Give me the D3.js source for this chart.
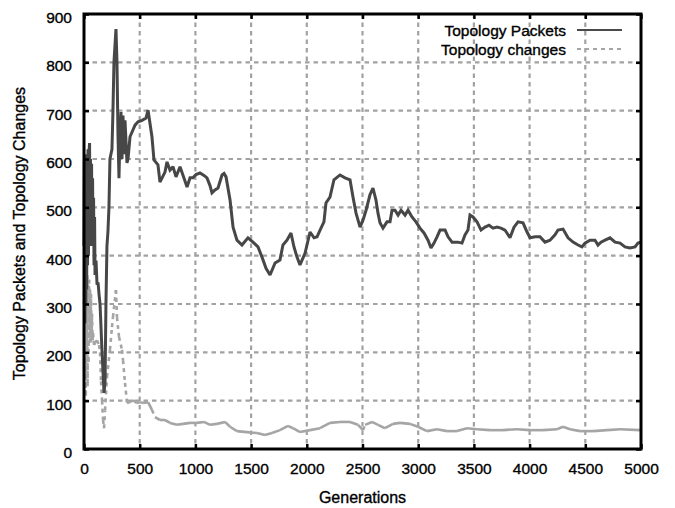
<!DOCTYPE html>
<html>
<head>
<meta charset="utf-8">
<script src="https://cdn.jsdelivr.net/npm/d3@7"></script>
<style>
  html, body { margin: 0; padding: 0; background: #fff; }
  svg text { font-family: "Liberation Sans", Arial, sans-serif; fill: #000; stroke: #000; stroke-width: 0.35px; }
</style>
</head>
<body>
<svg id="chart" width="675" height="508"></svg>
<script>
// Topology packets per generation
const packetGens = [0,4,8,12,16,20,24,28,32,36,40,45,50,54,58,63,68,72,77,81,86,90,95,99,108,117,126,135,144,162,180,189,197,206,215,224,233,251,260,269,287,296,305,314,323,332,341,350,359,368,386,395,413,458,485,521,557,575,610,628,664,682,727,745,772,799,826,862,898,925,952,978,1005,1041,1077,1104,1131,1149,1176,1203,1239,1257,1275,1311,1338,1373,1418,1472,1517,1562,1598,1634,1670,1715,1759,1786,1822,1858,1885,1912,1939,1984,2029,2065,2092,2119,2154,2172,2208,2244,2298,2343,2388,2415,2442,2478,2505,2532,2567,2594,2621,2639,2657,2684,2720,2747,2765,2792,2819,2846,2882,2909,2944,2980,3016,3052,3088,3115,3142,3169,3196,3241,3268,3304,3357,3393,3420,3447,3465,3492,3528,3564,3600,3636,3672,3707,3743,3779,3824,3860,3896,3941,3977,4004,4049,4093,4138,4183,4228,4255,4300,4345,4390,4435,4470,4497,4542,4587,4614,4641,4677,4722,4767,4812,4856,4901,4946,4973,5000];
const packetValues = [420,600,260,610,300,590,330,600,380,620,400,615,633,440,600,420,590,450,560,420,520,380,480,360,390,340,345,320,300,200,116,140,300,420,450,500,600,620,700,800,869,800,650,560,650,697,600,690,610,680,592,600,646,670,677,680,685,701,646,598,588,552,573,594,577,584,563,584,560,542,561,561,568,571,566,561,545,530,536,540,567,570,563,515,459,432,422,437,428,418,397,374,360,385,391,422,432,447,418,397,381,405,449,437,439,453,470,509,521,557,567,561,557,521,488,459,474,494,526,540,515,488,468,457,470,470,494,494,484,494,484,494,480,470,457,447,432,416,426,439,453,453,439,428,428,426,443,453,484,480,470,453,459,463,457,459,457,453,437,459,470,468,449,437,439,439,428,432,443,453,455,437,428,422,418,426,432,432,422,428,432,437,428,426,418,416,418,426,428];

// Topology changes per generation
const changeGens = [0,4,8,12,16,20,24,28,32,36,40,45,50,54,58,63,68,72,77,81,90,99,117,135,144,153,162,171,180,189,206,233,251,260,287,296,314,341,350,368,386,413,440,476,503,530,575,610,637,682,727,772,835,889,952,1014,1077,1131,1194,1266,1311,1373,1463,1553,1625,1688,1759,1831,1876,1939,2029,2119,2208,2298,2388,2460,2505,2523,2585,2639,2702,2774,2837,2926,2998,3079,3169,3259,3348,3438,3528,3645,3761,3887,4004,4120,4246,4300,4363,4453,4569,4695,4812,4991,5000];
const changeValues = [300,390,150,370,110,380,200,360,130,340,180,350,250,330,220,320,230,280,225,240,215,220,225,215,200,140,100,60,43,80,149,205,252,273,329,273,232,205,184,137,95,97,101,95,97,95,97,81,66,60,60,54,50,52,54,54,56,50,52,56,46,37,35,33,29,33,39,48,43,35,39,43,54,56,56,50,39,50,56,50,43,52,54,52,46,37,41,37,37,43,41,39,39,41,39,39,41,46,41,37,37,39,41,39,40];

const xTicks = [0,500,1000,1500,2000,2500,3000,3500,4000,4500,5000];
const yTicks = [0,100,200,300,400,500,600,700,800,900];
const seriesNames = ["Topology Packets", "Topology changes"];
const xTitle = "Generations";
const yTitle = "Topology Packets and Topology Changes";

const svg = d3.select("#chart");
const plotLeft = 84, plotTop = 14, plotRight = 641, plotBottom = 449;

const x = d3.scaleLinear().domain([0, 5000]).range([plotLeft, plotRight]);
const y = d3.scaleLinear().domain([0, 900]).range([plotBottom, plotTop]);

const gridColor = "#a2a2a2";
const fontSize = "15.5px";

// dashed grid
svg.append("g").selectAll("line")
  .data(xTicks.slice(1, -1)).join("line")
  .attr("x1", d => x(d)).attr("x2", d => x(d))
  .attr("y1", plotTop).attr("y2", plotBottom)
  .attr("stroke", gridColor).attr("stroke-width", 2.2)
  .attr("stroke-dasharray", "4.5,4");
svg.append("g").selectAll("line")
  .data(yTicks.slice(1, -1)).join("line")
  .attr("x1", plotLeft).attr("x2", plotRight)
  .attr("y1", d => y(d)).attr("y2", d => y(d))
  .attr("stroke", gridColor).attr("stroke-width", 2.2)
  .attr("stroke-dasharray", "4.5,4");

// Topology changes: drawn per segment so that steep jumps show the dash pattern
const changePts = changeGens.map((g, i) => [x(g), y(changeValues[i])]);
const segs = d3.pairs(changePts);
svg.append("g").selectAll("line")
  .data(segs).join("line")
  .attr("x1", d => d[0][0]).attr("y1", d => d[0][1])
  .attr("x2", d => d[1][0]).attr("y2", d => d[1][1])
  .attr("stroke", "#a5a5a5").attr("stroke-width", 2.6)
  .attr("stroke-linecap", "butt")
  .attr("stroke-dasharray", d => Math.abs(d[1][1] - d[0][1]) > 2.2 * Math.abs(d[1][0] - d[0][0]) ? "4,4" : null);

// Topology packets
const line = d3.line().x(d => x(d[0])).y(d => y(d[1]));
svg.append("path")
  .datum(packetGens.map((g, i) => [g, packetValues[i]]))
  .attr("d", line)
  .attr("fill", "none").attr("stroke", "#474747")
  .attr("stroke-width", 3).attr("stroke-linejoin", "miter").attr("stroke-miterlimit", 2);

// axes with inward ticks on all four sides
const tickLen = 5;
const axB = d3.axisBottom(x).tickValues(xTicks).tickSize(-tickLen).tickPadding(14).tickFormat(d3.format("d"));
const axT = d3.axisTop(x).tickValues(xTicks).tickSize(-tickLen).tickFormat("");
const axL = d3.axisLeft(y).tickValues(yTicks).tickSize(-tickLen).tickPadding(12).tickFormat(d3.format("d"));
const axR = d3.axisRight(y).tickValues(yTicks).tickSize(-tickLen).tickFormat("");

function style(g) {
  g.select(".domain").remove();
  g.selectAll(".tick line").attr("stroke", "#000").attr("stroke-width", 2.5);
  g.selectAll(".tick text").attr("font-size", fontSize).attr("font-family", "Liberation Sans, Arial, sans-serif").attr("fill", "#000");
}
svg.append("g").attr("transform", `translate(0,${plotBottom})`).call(axB).call(style);
svg.append("g").attr("transform", `translate(0,${plotTop})`).call(axT).call(style);
svg.append("g").attr("transform", `translate(${plotLeft},0)`).call(axL).call(style)
  .selectAll(".tick text").attr("dy", "0.55em");
svg.append("g").attr("transform", `translate(${plotRight},0)`).call(axR).call(style);

// frame
svg.append("rect")
  .attr("x", plotLeft).attr("y", plotTop)
  .attr("width", plotRight - plotLeft).attr("height", plotBottom - plotTop)
  .attr("fill", "none").attr("stroke", "#000").attr("stroke-width", 3);

// titles
svg.append("text")
  .attr("x", (plotLeft + plotRight) / 2).attr("y", 503)
  .attr("text-anchor", "middle").attr("font-size", "16px")
  .text(xTitle);
svg.append("text")
  .attr("transform", `translate(25,${(plotTop + plotBottom) / 2 + 2}) rotate(-90)`)
  .attr("text-anchor", "middle").attr("font-size", "16px")
  .text(yTitle);

// legend
const legend = svg.append("g");
const legendRows = [
  { name: seriesNames[0], color: "#4a4a4a", dash: null, width: 2, y: 31 },
  { name: seriesNames[1], color: "#a5a5a5", dash: "4,4", width: 2, y: 50 }
];
legendRows.forEach(r => {
  legend.append("text")
    .attr("x", 566).attr("y", r.y).attr("dy", "0.35em")
    .attr("text-anchor", "end").attr("font-size", fontSize)
    .text(r.name);
  legend.append("line")
    .attr("x1", 577).attr("x2", 622).attr("y1", r.y - 1).attr("y2", r.y - 1)
    .attr("stroke", r.color).attr("stroke-width", r.width)
    .attr("stroke-dasharray", r.dash);
});
</script>
</body>
</html>
